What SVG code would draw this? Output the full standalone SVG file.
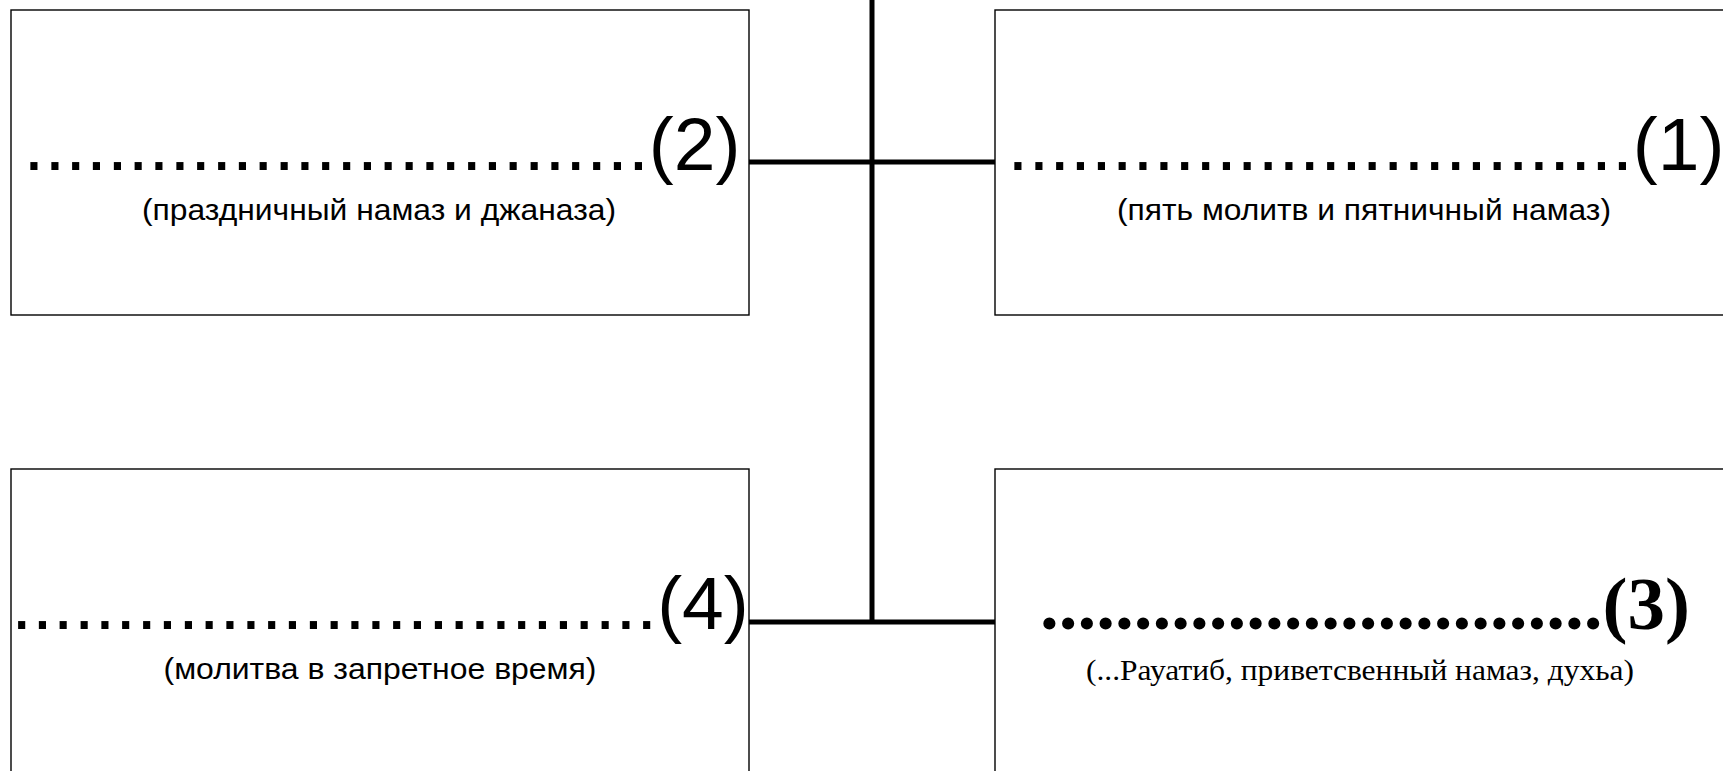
<svg xmlns="http://www.w3.org/2000/svg" width="1723" height="771" viewBox="0 0 1723 771">
<style>
.box{fill:#fff;stroke:#000;stroke-width:1.4}
.con{stroke:#000;stroke-width:5;fill:none}
.big{font-family:"Liberation Sans",Arial,sans-serif;font-size:75px;fill:#000;text-anchor:middle}
.bigs{font-family:"Liberation Serif","Times New Roman",serif;font-size:75px;font-weight:bold;fill:#000;text-anchor:middle}
.sub{font-family:"Liberation Sans",Arial,sans-serif;font-size:30px;fill:#000;text-anchor:middle}
.subs{font-family:"Liberation Serif","Times New Roman",serif;font-size:30px;fill:#000;text-anchor:middle}
</style>
<rect width="1723" height="771" fill="#fff"/>
<g id="connectors">
<line class="con" x1="872" y1="0" x2="872" y2="622"/>
<line class="con" x1="749" y1="162" x2="995" y2="162"/>
<line class="con" x1="749" y1="622" x2="995" y2="622"/>
</g>
<g id="node2">
<rect class="box" x="11" y="10" width="738" height="305"/>
<text class="big" x="382" y="170">..............................(2)</text>
<text class="sub" x="379" y="220" textLength="474" lengthAdjust="spacingAndGlyphs">(праздничный намаз и джаназа)</text>
</g>
<g id="node1">
<rect class="box" x="995" y="10" width="738" height="305"/>
<text class="big" x="1366" y="170">..............................(1)</text>
<text class="sub" x="1364" y="220" textLength="494" lengthAdjust="spacingAndGlyphs">(пять молитв и пятничный намаз)</text>
</g>
<g id="node4">
<rect class="box" x="11" y="469" width="738" height="305"/>
<text class="big" x="380" y="629">...............................(4)</text>
<text class="sub" x="380" y="679" textLength="433" lengthAdjust="spacingAndGlyphs">(молитва в запретное время)</text>
</g>
<g id="node3">
<rect class="box" x="995" y="469" width="738" height="305"/>
<text class="bigs" x="1365" y="629">..............................(3)</text>
<text class="subs" x="1360" y="680" textLength="548" lengthAdjust="spacingAndGlyphs">(...Рауатиб, приветсвенный намаз, духьа)</text>
</g>
</svg>
